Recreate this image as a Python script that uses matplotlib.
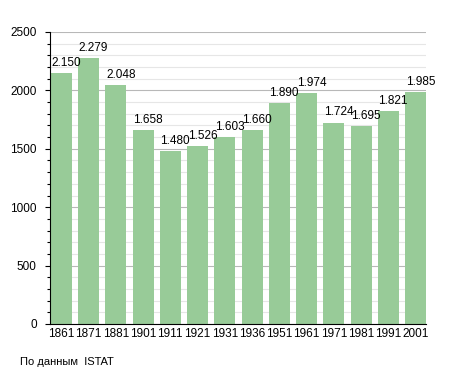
"""Population bar chart (ISTAT data)."""

import matplotlib
matplotlib.use('Agg')
import matplotlib.pyplot as plt
from matplotlib.ticker import MultipleLocator

# census years and population
years = ['1861', '1871', '1881', '1901', '1911', '1921', '1931',
         '1936', '1951', '1961', '1971', '1981', '1991', '2001']
population = [2150, 2279, 2048, 1658, 1480, 1526, 1603,
              1660, 1890, 1974, 1724, 1695, 1821, 1985]
source = 'По данным  ISTAT'


def main():
    """Main program called during execution."""

    plt.rcParams['font.family'] = ['Liberation Sans', 'DejaVu Sans']
    plt.rcParams['font.size'] = 8

    # initialize figure
    fig = plt.figure(figsize=(4.55, 3.73), dpi=100)
    ax = fig.add_axes([50/455, 1-324/373, 376/455, 292/373])

    # draw bars and value labels
    width = 0.77
    pos = list(range(len(years)))
    ax.bar(pos, population, width=width, align='edge',
           color='#98cb98', zorder=2)
    for x, v in zip(pos, population):
        ax.annotate(f'{v:,}'.replace(',', '.'), (x, v),
                    xytext=(0.5, 3), textcoords='offset points',
                    ha='left', va='bottom', fontsize=8.5)

    # set axes properties
    ax.set_xlim(-0.03, len(years) - 1 + width)
    ax.set_ylim(0, 2500)
    ax.set_xticks([p + width/2 for p in pos])
    ax.set_xticklabels(years, fontsize=8.5)
    ax.tick_params(axis='x', length=0, pad=3)
    ax.yaxis.set_major_locator(MultipleLocator(500))
    ax.yaxis.set_minor_locator(MultipleLocator(100))
    ax.tick_params(axis='y', which='major', length=3.6, width=0.8, pad=6,
                   labelsize=8.5)
    ax.tick_params(axis='y', which='minor', length=2, width=0.8)
    ax.grid(axis='y', which='major', color='#b8b8b8', lw=0.8, zorder=0)
    ax.grid(axis='y', which='minor', color='#e6e6e6', lw=0.8, zorder=0)
    for side in ('top', 'right'):
        ax.spines[side].set_visible(False)
    ax.spines['left'].set_zorder(3)
    ax.spines['bottom'].set_zorder(3)

    # source note
    fig.text(20/455, 1-362/373, source, fontsize=8, va='center')

    # save figure
    fig.savefig('out.png', dpi=100)


if __name__ == '__main__':
    main()
